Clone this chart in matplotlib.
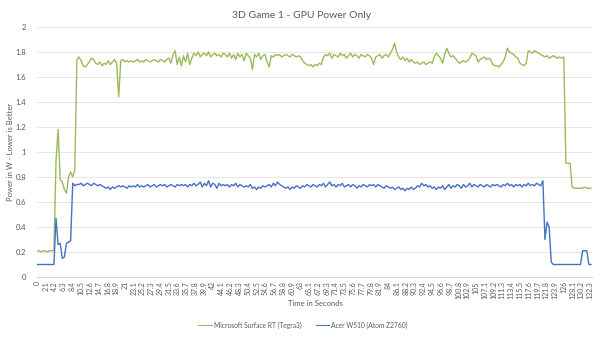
import matplotlib
matplotlib.use("Agg")
import matplotlib.pyplot as plt
import numpy as np

plt.rcParams['font.family'] = ['Lato', 'DejaVu Sans']

title = "3D Game 1 - GPU Power Only"
series_names = ["Microsoft Surface RT (Tegra3)", "Acer W510 (Atom Z2760)"]
sample_step = 0.5  # seconds between samples

surface_rt = [
    0.21, 0.21, 0.20, 0.21, 0.21, 0.20, 0.21, 0.21, 0.21, 0.93,
    1.18, 0.78, 0.76, 0.70, 0.67, 0.80, 0.84, 0.80, 0.86, 1.74,
    1.76, 1.73, 1.69, 1.68, 1.70, 1.72, 1.75, 1.74, 1.71, 1.70,
    1.72, 1.69, 1.71, 1.70, 1.73, 1.70, 1.72, 1.74, 1.71, 1.44,
    1.73, 1.74, 1.72, 1.73, 1.72, 1.73, 1.72, 1.73, 1.74, 1.72,
    1.73, 1.72, 1.74, 1.73, 1.72, 1.73, 1.74, 1.73, 1.72, 1.74,
    1.73, 1.72, 1.74, 1.75, 1.71, 1.78, 1.81, 1.70, 1.76, 1.69,
    1.77, 1.72, 1.79, 1.70, 1.75, 1.79, 1.77, 1.80, 1.76, 1.78,
    1.79, 1.77, 1.80, 1.76, 1.78, 1.79, 1.77, 1.78, 1.76, 1.79,
    1.78, 1.76, 1.79, 1.75, 1.78, 1.74, 1.79, 1.76, 1.78, 1.73,
    1.79, 1.77, 1.75, 1.66, 1.78, 1.76, 1.79, 1.74, 1.77, 1.78,
    1.72, 1.68, 1.77, 1.76, 1.78, 1.77, 1.78, 1.76, 1.77, 1.78,
    1.77, 1.76, 1.78, 1.77, 1.76, 1.77, 1.76, 1.73, 1.71, 1.70,
    1.69, 1.70, 1.68, 1.70, 1.69, 1.71, 1.70, 1.76, 1.78, 1.77,
    1.79, 1.75, 1.78, 1.77, 1.76, 1.79, 1.77, 1.78, 1.75, 1.77,
    1.79, 1.76, 1.78, 1.77, 1.75, 1.78, 1.77, 1.76, 1.78, 1.77,
    1.75, 1.70, 1.76, 1.77, 1.78, 1.75, 1.77, 1.78, 1.76, 1.79,
    1.82, 1.87, 1.80, 1.76, 1.74, 1.76, 1.73, 1.75, 1.72, 1.74,
    1.72, 1.71, 1.72, 1.70, 1.71, 1.72, 1.70, 1.71, 1.72, 1.71,
    1.76, 1.79, 1.77, 1.75, 1.71, 1.78, 1.83, 1.79, 1.76, 1.77,
    1.75, 1.73, 1.71, 1.72, 1.73, 1.72, 1.73, 1.75, 1.79, 1.78,
    1.77, 1.72, 1.74, 1.75, 1.76, 1.74, 1.75, 1.74, 1.70, 1.69,
    1.69, 1.68, 1.70, 1.72, 1.76, 1.83, 1.80, 1.79, 1.78, 1.76,
    1.75, 1.71, 1.70, 1.69, 1.71, 1.81, 1.80, 1.79, 1.81, 1.80,
    1.79, 1.78, 1.77, 1.76, 1.77, 1.75, 1.76, 1.77, 1.76, 1.75,
    1.76, 1.75, 1.76, 0.91, 0.91, 0.91, 0.72, 0.71, 0.71, 0.71,
    0.71, 0.71, 0.72, 0.71, 0.71, 0.71,
]

acer_w510 = [
    0.10, 0.10, 0.10, 0.10, 0.10, 0.10, 0.10, 0.10, 0.10, 0.47,
    0.26, 0.27, 0.15, 0.16, 0.27, 0.28, 0.29, 0.75, 0.73, 0.74,
    0.74, 0.75, 0.73, 0.74, 0.75, 0.74, 0.73, 0.75, 0.74, 0.73,
    0.74, 0.73, 0.72, 0.71, 0.72, 0.70, 0.72, 0.71, 0.72, 0.73,
    0.72, 0.73, 0.72, 0.71, 0.73, 0.72, 0.73, 0.72, 0.74, 0.72,
    0.73, 0.72, 0.73, 0.74, 0.72, 0.73, 0.74, 0.72, 0.73, 0.74,
    0.73, 0.74, 0.72, 0.73, 0.74, 0.73, 0.72, 0.74, 0.73, 0.74,
    0.73, 0.74, 0.72, 0.74, 0.73, 0.75, 0.73, 0.74, 0.76, 0.72,
    0.75, 0.73, 0.77, 0.72, 0.75, 0.74, 0.71, 0.75, 0.73, 0.74,
    0.73, 0.74, 0.72, 0.74, 0.73, 0.75, 0.72, 0.74, 0.73, 0.72,
    0.73, 0.72, 0.74, 0.71, 0.72, 0.70, 0.72, 0.71, 0.73, 0.72,
    0.73, 0.74, 0.72, 0.75, 0.73, 0.76, 0.74, 0.73, 0.72, 0.71,
    0.72, 0.70, 0.72, 0.71, 0.73, 0.72, 0.71, 0.73, 0.72, 0.74,
    0.73, 0.72, 0.74, 0.73, 0.72, 0.74, 0.73, 0.75, 0.72, 0.74,
    0.76, 0.73, 0.74, 0.72, 0.74, 0.73, 0.75, 0.72, 0.73, 0.74,
    0.72, 0.74, 0.73, 0.71, 0.73, 0.72, 0.74, 0.73, 0.72, 0.74,
    0.73, 0.74, 0.72, 0.74, 0.73, 0.72, 0.71, 0.73, 0.72, 0.71,
    0.72, 0.70, 0.71, 0.72, 0.70, 0.71, 0.69, 0.71, 0.70, 0.72,
    0.70, 0.71, 0.73, 0.72, 0.75, 0.73, 0.74, 0.72, 0.73, 0.71,
    0.72, 0.70, 0.72, 0.71, 0.73, 0.70, 0.72, 0.74, 0.71, 0.73,
    0.72, 0.74, 0.73, 0.71, 0.74, 0.72, 0.73, 0.75, 0.72, 0.74,
    0.73, 0.72, 0.74, 0.73, 0.72, 0.74, 0.73, 0.72, 0.74, 0.73,
    0.74, 0.73, 0.72, 0.74, 0.73, 0.75, 0.73, 0.74, 0.72, 0.74,
    0.73, 0.74, 0.72, 0.74, 0.73, 0.75, 0.73, 0.74, 0.73, 0.75,
    0.74, 0.73, 0.77, 0.30, 0.44, 0.40, 0.12, 0.10, 0.10, 0.10,
    0.10, 0.10, 0.10, 0.10, 0.10, 0.10, 0.10, 0.10, 0.10, 0.10,
    0.10, 0.21, 0.21, 0.21, 0.10, 0.10,
]

x_tick_values = [round(2.1 * i, 1) for i in range(64)]
x_tick_labels = [f"{v:g}" for v in x_tick_values]
x_major_marks = [0, 25.2, 50.4, 75.6, 100.8, 126]
y_ticks = [0, 0.2, 0.4, 0.6, 0.8, 1, 1.2, 1.4, 1.6, 1.8, 2]
y_tick_labels = ["0", "0.2", "0.4", "0.6", "0.8", "1", "1.2", "1.4", "1.6", "1.8", "2"]

green = "#9BBB59"
blue = "#4472C4"
text_col = "#595959"

fig = plt.figure(figsize=(6, 3.37), dpi=100)
ax = fig.add_axes([0.062, 0.178, 0.925, 0.742])

t_g = np.arange(len(surface_rt)) * sample_step
t_b = np.arange(len(acer_w510)) * sample_step
ax.plot(t_g, surface_rt, color=green, lw=1.0, label=series_names[0])
ax.plot(t_b, acer_w510, color=blue, lw=1.0, label=series_names[1])

ax.set_xlim(0, 132.8)
ax.set_ylim(0, 2)
ax.set_yticks(y_ticks)
ax.set_yticklabels(y_tick_labels)
ax.set_xticks(x_tick_values)
ax.set_xticklabels(x_tick_labels, rotation=90)
ax.set_xticks(x_major_marks, minor=True)
ax.tick_params(axis='x', which='major', length=0, labelsize=5, colors=text_col, pad=3)
ax.tick_params(axis='x', which='minor', length=3, color="#d9d9d9", width=0.8)
ax.tick_params(axis='y', length=0, labelsize=5.5, colors=text_col, pad=8)

ax.grid(axis='y', color="#e6e6e6", lw=0.7)
ax.set_axisbelow(True)
for s in ['top', 'right', 'left']:
    ax.spines[s].set_visible(False)
ax.spines['bottom'].set_color("#d9d9d9")
ax.spines['bottom'].set_linewidth(0.8)

fig.text(0.503, 0.955, title, ha='center', va='center', fontsize=7.5, color=text_col)
fig.text(0.018, 0.55, "Power in W - Lower is Better", rotation=90, ha='center', va='center',
         fontsize=5.5, color=text_col)
fig.text(0.525, 0.098, "Time in Seconds", ha='center', va='center', fontsize=5.5, color=text_col)

leg = fig.legend(loc='center', bbox_to_anchor=(0.505, 0.035), ncol=2, frameon=False,
                 fontsize=4.8, handlelength=2.0, handletextpad=0.3, columnspacing=2.2,
                 labelcolor=text_col)
for line in leg.get_lines():
    line.set_linewidth(0.8)

fig.savefig("out.png", dpi=100)
